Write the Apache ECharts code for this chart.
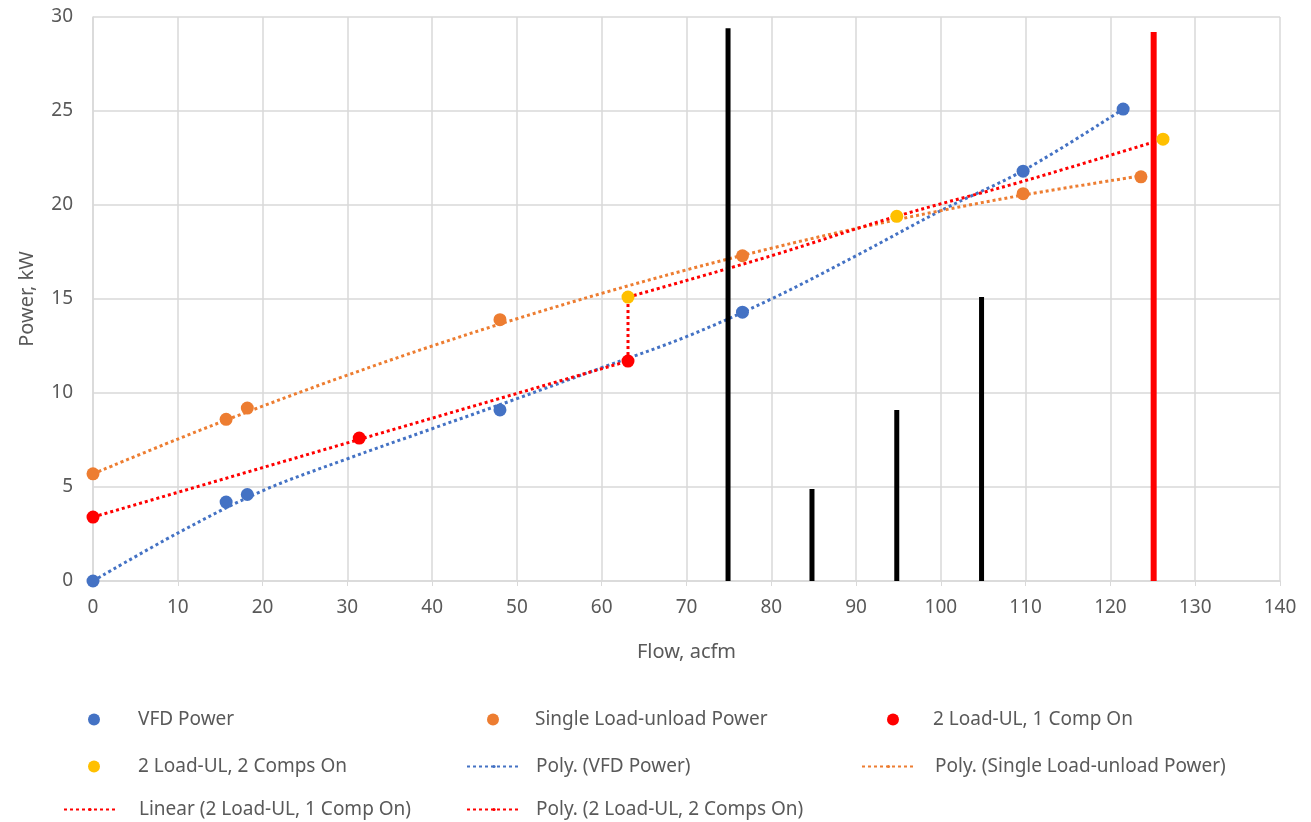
<!DOCTYPE html>
<html>
<head>
<meta charset="utf-8">
<script src="https://cdn.jsdelivr.net/npm/echarts@6/dist/echarts.min.js"></script>
<style>
  html, body { margin: 0; padding: 0; background: #fff; }
  #chart { width: 1311px; height: 822px; }
</style>
</head>
<body>
<div id="chart"></div>
<script>
// measured points
var vfdFlow = [0, 15.7, 18.2, 48, 76.6, 109.7, 121.5];
var vfdPower = [0, 4.2, 4.6, 9.1, 14.3, 21.8, 25.1];
var singleFlow = [0, 15.7, 18.2, 48, 76.6, 109.7, 123.6];
var singlePower = [5.7, 8.6, 9.2, 13.9, 17.3, 20.6, 21.5];
var oneCompFlow = [0, 31.4, 63.1];
var oneCompPower = [3.4, 7.6, 11.7];
var twoCompFlow = [63.1, 94.8, 126.2];
var twoCompPower = [15.1, 19.4, 23.5];

// trendlines
var vfdTrendFlow = [0, 10, 20, 30, 40, 50, 60, 70, 80, 90, 100, 110, 121.5];
var vfdTrendPower = [0, 2.55, 4.8, 6.5, 8.1, 9.7, 11.35, 13.0, 15.0, 17.3, 19.7, 21.9, 25.1];
var singleTrendFlow = [0, 10, 20, 30, 40, 50, 60, 70, 80, 90, 100, 110, 123.6];
var singleTrendPower = [5.7, 7.55, 9.3, 10.95, 12.5, 13.95, 15.3, 16.55, 17.7, 18.75, 19.7, 20.55, 21.55];
var linearFlow = [0, 63.1];
var linearPower = [3.4, 11.7];
var poly2Flow = [63.1, 80, 94.8, 110, 126.2];
var poly2Power = [15.1, 17.3, 19.4, 21.3, 23.5];
var stepFlow = [63.1, 63.1];
var stepPower = [11.7, 15.1];

// vertical marker lines
var markFlow = [74.9, 84.8, 94.8, 104.8];
var markPower = [29.4, 4.9, 9.1, 15.1];
var limitFlow = 125.1;
var limitPower = 29.2;

var BLUE = '#4472C4', ORANGE = '#ED7D31', RED = '#FF0000', YELLOW = '#FFC000';
var FONT = 'Noto Sans';
var GREY = '#595959';

function pairs(xs, ys) {
    var out = [];
    for (var i = 0; i < xs.length; i++) out.push([xs[i], ys[i]]);
    return out;
}

function scatter(name, xs, ys, color) {
    return {name: name, type: 'scatter', data: pairs(xs, ys), symbolSize: 13,
        itemStyle: {color: color, opacity: 1}, z: 5};
}

function trend(name, xs, ys, color, smooth) {
    return {name: name, type: 'line', data: pairs(xs, ys), symbol: 'none',
        smooth: smooth ? 0.35 : false,
        lineStyle: {color: color, width: 3, type: [3, 3]}, itemStyle: {color: color}, z: 3};
}

function vline(x, top, color, w) {
    return {type: 'line', data: [[x, 0], [x, top]], symbol: 'none', silent: true,
        lineStyle: {color: color, width: w}, z: 4};
}

var series = [
    scatter('VFD Power', vfdFlow, vfdPower, BLUE),
    scatter('Single Load-unload Power', singleFlow, singlePower, ORANGE),
    scatter('2 Load-UL, 1 Comp On', oneCompFlow, oneCompPower, RED),
    scatter('2 Load-UL, 2 Comps On', twoCompFlow, twoCompPower, YELLOW),
    trend('Poly. (VFD Power)', vfdTrendFlow, vfdTrendPower, BLUE, true),
    trend('Poly. (Single Load-unload Power)', singleTrendFlow, singleTrendPower, ORANGE, true),
    trend('Linear (2 Load-UL, 1 Comp On)', linearFlow, linearPower, RED, false),
    trend('Poly. (2 Load-UL, 2 Comps On)', poly2Flow, poly2Power, RED, true),
    trend('step', stepFlow, stepPower, RED, false)
];
for (var i = 0; i < markFlow.length; i++) series.push(vline(markFlow[i], markPower[i], '#000', 5));
series.push(vline(limitFlow, limitPower, RED, 6));

// legend slots: [name, left, rowCenter, iconWidth, textPad, isLine]
var legendSlots = [
    ['VFD Power', 88, 718, 12, 33, false],
    ['Single Load-unload Power', 487, 718, 12, 31, false],
    ['2 Load-UL, 1 Comp On', 887, 718, 12, 29, false],
    ['2 Load-UL, 2 Comps On', 88, 765, 12, 33, false],
    ['Poly. (VFD Power)', 466, 765, 54, 10, true],
    ['Poly. (Single Load-unload Power)', 861, 765, 53, 15, true],
    ['Linear (2 Load-UL, 1 Comp On)', 63, 808, 52, 18, true],
    ['Poly. (2 Load-UL, 2 Comps On)', 466, 808, 54, 10, true]
];
var legends = legendSlots.map(function (s) {
    return {
        data: [s[0]], left: s[1], top: s[2] - 8, padding: 0,
        itemWidth: s[3], itemHeight: s[5] ? 4 : 12,
        icon: s[5] ? undefined : 'circle',
        selectedMode: false,
        textStyle: {color: GREY, fontFamily: FONT, fontSize: 19, padding: [0, 0, 0, s[4]]}
    };
});

var chart = echarts.init(document.getElementById('chart'));
chart.setOption({
    animation: false,
    backgroundColor: '#fff',
    grid: {left: 93, right: 31, top: 17, bottom: 241},
    legend: legends,
    xAxis: {
        type: 'value', min: 0, max: 140, interval: 10,
        name: 'Flow, acfm', nameLocation: 'middle', nameGap: 61,
        nameTextStyle: {color: GREY, fontFamily: FONT, fontSize: 20},
        axisLine: {show: true, lineStyle: {color: '#D9D9D9', width: 1.5}},
        axisTick: {show: true, length: 5, lineStyle: {color: '#D9D9D9'}},
        axisLabel: {color: GREY, fontFamily: FONT, fontSize: 19, margin: 17},
        splitLine: {show: true, lineStyle: {color: '#D9D9D9', width: 1.5}}
    },
    yAxis: {
        type: 'value', min: 0, max: 30, interval: 5,
        name: 'Power, kW', nameLocation: 'middle', nameGap: 56,
        nameTextStyle: {color: GREY, fontFamily: FONT, fontSize: 20},
        axisLine: {show: true, lineStyle: {color: '#D9D9D9', width: 1.5}},
        axisTick: {show: false},
        axisLabel: {color: GREY, fontFamily: FONT, fontSize: 19, margin: 20},
        splitLine: {show: true, lineStyle: {color: '#D9D9D9', width: 1.5}}
    },
    series: series
});
</script>
</body>
</html>
